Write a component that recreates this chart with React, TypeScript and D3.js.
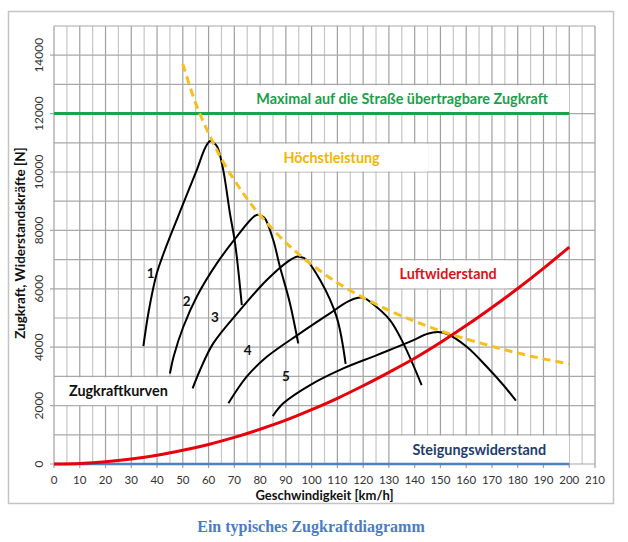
import React, { useRef, useEffect } from 'react';
import * as d3 from 'd3';

type Pt = [number, number];

// Zugkraftkurven der fünf Gänge [km/h, N]
const gear1: Pt[] = [[34.7, 4040], [36.8, 5250], [39.9, 6530], [42.5, 7200], [45, 7780], [50.2, 8925], [55.4, 10065], [58.8, 10850], [60.6, 11060], [62, 11000], [63.4, 10860], [65.7, 10065], [68.3, 8580], [70.3, 7555], [72.9, 5440]];
const gear2: Pt[] = [[45, 3100], [46.5, 3700], [50.2, 4700], [55.4, 5730], [63.2, 6870], [70.9, 7780], [76.5, 8380], [78.7, 8530], [80.5, 8500], [81.9, 8410], [85.1, 7670], [87.7, 6755], [91.6, 5500], [94.8, 4130]];
const gear3: Pt[] = [[53.8, 2590], [56.7, 3220], [61.8, 4130], [72.2, 5270], [82.6, 6300], [91, 6950], [94.2, 7100], [96, 7080], [97.4, 7040], [103.3, 6300], [109.7, 5040], [113.2, 3430]];
const gear4: Pt[] = [[67.7, 2080], [74.8, 2990], [82.6, 3670], [95.5, 4475], [107.1, 5160], [114, 5560], [118, 5690], [120.5, 5680], [122.7, 5556], [130.4, 4930], [135.6, 4130], [142.7, 2705]];
const gear5: Pt[] = [[84.9, 1640], [89, 2080], [99.4, 2705], [112.3, 3275], [125.3, 3730], [138.2, 4190], [145, 4460], [149, 4520], [152.4, 4460], [160.2, 4016], [168, 3330], [174.4, 2705], [179.3, 2170]];
const gearCurves = [gear1, gear2, gear3, gear4, gear5];
const gearLabels = ['1', '2', '3', '4', '5'];
const gearLabelPos: Pt[] = [[37.5, 6550], [51.5, 5580], [62.5, 5020], [75.2, 3900], [90, 3010]];

// Höchstleistung (Leistungshyperbel)
const powerCurve: Pt[] = [[50, 13700], [55, 12350], [60, 11330], [65, 10450], [70, 9720], [75, 9080], [80, 8520], [90, 7580], [100, 6830], [110, 6210], [120, 5700], [130, 5260], [140, 4890], [150, 4560], [160, 4280], [170, 4030], [180, 3800], [190, 3600], [200, 3430]];

// Luftwiderstand
const airSpeed = [0, 10, 20, 30, 40, 50, 60, 70, 80, 90, 100, 110, 120, 130, 140, 150, 160, 170, 180, 190, 200];
const airDrag = [0, 20, 75, 170, 300, 470, 670, 910, 1190, 1500, 1860, 2250, 2680, 3140, 3620, 4160, 4740, 5360, 6010, 6700, 7430];

const maxTraction = 12000;
const gradeResistance = 0;
const lineEnd = 200;

const xTicks = d3.range(0, 211, 10);
const yTicks = d3.range(0, 14001, 2000);

// Textfelder: [x0, x1, y0, y1]
const boxes = [
  { text: 'Maximal auf die Straße übertragbare Zugkraft', color: '#1a9f4a', ext: [70.3, 200, 12000, 13000] },
  { text: 'Höchstleistung', color: '#f2b600', ext: [70.3, 145.2, 10000, 11000] },
  { text: 'Luftwiderstand', color: '#e0101a', ext: [130.2, 175.8, 6000, 7000] },
  { text: 'Steigungswiderstand', color: '#1f3d6b', ext: [130.2, 200, 0, 1000] },
  { text: 'Zugkraftkurven', color: '#111', ext: [0, 50, 2000, 3000] },
];

const App = () => {
  const ref = useRef<SVGSVGElement>(null);

  useEffect(() => {
    const svg = d3.select(ref.current);
    svg.selectAll('*').remove();

    const font = 'Lato, "Open Sans", sans-serif';
    const x = d3.scaleLinear().domain([0, 210]).range([54, 595]);
    const y = d3.scaleLinear().domain([0, 15000]).range([464, 26]);

    // Rahmen
    svg.append('rect')
      .attr('x', 8.5).attr('y', 11.5).attr('width', 605).attr('height', 492)
      .attr('fill', '#fff').attr('stroke', '#c4c4c4').attr('stroke-width', 1.5);

    // Gitter
    const grid = svg.append('g');
    grid.selectAll('line.v')
      .data(d3.range(0, 211, 5))
      .join('line')
      .attr('x1', d => x(d)).attr('x2', d => x(d))
      .attr('y1', y(15000)).attr('y2', d => (d % 10 === 0 ? y(0) + 4 : y(0)))
      .attr('stroke', d => (d % 10 === 0 ? '#a0a0a0' : '#c6c6c6'))
      .attr('stroke-width', 1.2);
    grid.selectAll('line.h')
      .data(d3.range(0, 15001, 1000))
      .join('line')
      .attr('x1', d => (d % 2000 === 0 ? x(0) - 4 : x(0))).attr('x2', x(210))
      .attr('y1', d => y(d)).attr('y2', d => y(d))
      .attr('stroke', '#a8a8a8')
      .attr('stroke-width', 1.2);

    // Textfelder
    const bx = svg.append('g');
    boxes.forEach(b => {
      const [x0, x1, y0, y1] = b.ext;
      bx.append('rect')
        .attr('x', x(x0) + 1).attr('y', y(y1) + 1)
        .attr('width', x(x1) - x(x0) - 1).attr('height', y(y0) - y(y1) - 1.5)
        .attr('fill', '#fff');
      bx.append('text')
        .attr('x', (x(x0) + x(x1)) / 2).attr('y', (y(y0) + y(y1)) / 2)
        .attr('dy', '0.36em')
        .attr('text-anchor', 'middle')
        .attr('font-family', font).attr('font-weight', 700).attr('font-size', 14.4)
        .attr('fill', b.color)
        .text(b.text);
    });

    // Achsen-Beschriftung
    svg.append('g').selectAll('text')
      .data(xTicks)
      .join('text')
      .attr('x', d => x(d)).attr('y', 483.5)
      .attr('text-anchor', 'middle')
      .attr('font-family', font).attr('font-size', 11.5).attr('fill', '#333')
      .text(d => d);
    svg.append('g').selectAll('text')
      .data(yTicks)
      .join('text')
      .attr('transform', d => `translate(42.5,${y(d)}) rotate(-90)`)
      .attr('text-anchor', 'middle')
      .attr('font-family', font).attr('font-size', 12).attr('fill', '#333')
      .text(d => d);
    svg.append('text')
      .attr('x', (x(0) + x(210)) / 2).attr('y', 499.5)
      .attr('text-anchor', 'middle')
      .attr('font-family', font).attr('font-weight', 700).attr('font-size', 13).attr('fill', '#111')
      .text('Geschwindigkeit [km/h]');
    svg.append('text')
      .attr('transform', `translate(24.5,243) rotate(-90)`)
      .attr('text-anchor', 'middle')
      .attr('font-family', font).attr('font-weight', 700).attr('font-size', 13.5).attr('fill', '#111')
      .text('Zugkraft, Widerstandskräfte [N]');

    const line = d3.line<Pt>().x(d => x(d[0])).y(d => y(d[1])).curve(d3.curveCatmullRom.alpha(0.5));

    // Steigungswiderstand
    svg.append('line')
      .attr('x1', x(0)).attr('x2', x(lineEnd))
      .attr('y1', y(gradeResistance)).attr('y2', y(gradeResistance))
      .attr('stroke', '#4f7fbf').attr('stroke-width', 2.5);

    // Maximale Zugkraft
    svg.append('line')
      .attr('x1', x(0)).attr('x2', x(lineEnd))
      .attr('y1', y(maxTraction)).attr('y2', y(maxTraction))
      .attr('stroke', '#1aa34a').attr('stroke-width', 3);

    // Zugkraftkurven
    svg.append('g').selectAll('path')
      .data(gearCurves)
      .join('path')
      .attr('d', d => line(d))
      .attr('fill', 'none').attr('stroke', '#000').attr('stroke-width', 2);

    svg.append('g').selectAll('text')
      .data(gearLabelPos)
      .join('text')
      .attr('x', d => x(d[0])).attr('y', d => y(d[1]))
      .attr('dy', '0.36em').attr('text-anchor', 'middle')
      .attr('font-family', font).attr('font-weight', 700).attr('font-size', 13.5).attr('fill', '#111')
      .text((d, i) => gearLabels[i]);

    // Luftwiderstand
    const air: Pt[] = airSpeed.map((v, i) => [v, airDrag[i]]);
    svg.append('path')
      .attr('d', line(air))
      .attr('fill', 'none').attr('stroke', '#e8000b').attr('stroke-width', 3);

    // Höchstleistung
    svg.append('path')
      .attr('d', line(powerCurve))
      .attr('fill', 'none').attr('stroke', '#f7bf1e').attr('stroke-width', 3)
      .attr('stroke-dasharray', '8,5');

    // Bildunterschrift
    svg.append('text')
      .attr('x', 311).attr('y', 532)
      .attr('text-anchor', 'middle')
      .attr('font-family', '"Liberation Serif", "DejaVu Serif", serif')
      .attr('font-weight', 700).attr('font-size', 16).attr('fill', '#4a7cc4')
      .text('Ein typisches Zugkraftdiagramm');
  }, []);

  return (
    <svg ref={ref} width={628} height={542}
      style={{ position: 'absolute', left: 0, top: 0, background: '#fff' }} />
  );
};

export default App;
